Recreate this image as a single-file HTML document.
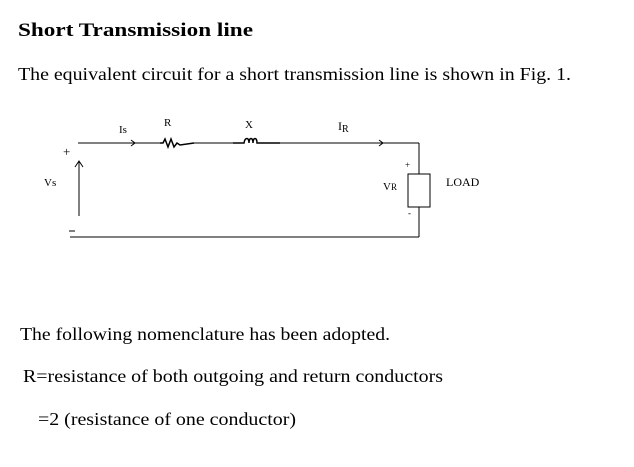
<!DOCTYPE html>
<html><head><style>html,body{margin:0;padding:0;background:#fff;}svg{display:block}</style></head>
<body>
<svg width="634" height="467" xmlns="http://www.w3.org/2000/svg" font-family="Liberation Serif, serif" fill="#000">
<text x="18" y="36" font-size="19" font-weight="bold" textLength="235" lengthAdjust="spacingAndGlyphs">Short Transmission  line</text>
<text x="18" y="80" font-size="18" textLength="553" lengthAdjust="spacingAndGlyphs">The equivalent circuit for a short transmission line is shown in Fig. 1.</text>
<g stroke="#000" stroke-width="1" fill="none">
<line x1="78" y1="143" x2="160" y2="143"/>
<polyline stroke-width="1.5" points="160,143 163,143 165,139 168,147 171,139 174,147 177,143 180,145 194,143"/>
<line x1="194" y1="143" x2="233" y2="143"/>
<path stroke-width="1.5" d="M233,143 L244,143 C245,137 249,137 249,143 C249,137 253,137 253,143 C253,137 257,137 257,143 L280,143"/>
<line x1="280" y1="143" x2="419" y2="143"/>
<polyline points="131,140 135,143 131,146"/>
<polyline points="379,140 383,143 379,146"/>
<line x1="419" y1="143" x2="419" y2="174"/>
<rect x="408" y="174" width="22" height="33"/>
<line x1="419" y1="207" x2="419" y2="237"/>
<line x1="70" y1="237" x2="419" y2="237"/>
<line x1="79" y1="216" x2="79" y2="162"/>
<polyline points="75,167 79,161 83,167"/>
<line x1="69" y1="231" x2="75" y2="231"/>
</g>
<text x="63" y="156" font-size="13">+</text>
<text x="44" y="186" font-size="11">Vs</text>
<text x="119" y="133" font-size="11">Is</text>
<text x="164" y="126" font-size="11">R</text>
<text x="245" y="128" font-size="11">X</text>
<text x="338" y="130" font-size="12">I<tspan font-size="10" dy="2">R</tspan></text>
<text x="383" y="190" font-size="11">V<tspan font-size="9">R</tspan></text>
<text x="405" y="168" font-size="9">+</text>
<text x="408" y="216" font-size="9">-</text>
<text x="446" y="186" font-size="12">LOAD</text>
<text x="20" y="340" font-size="18" textLength="370" lengthAdjust="spacingAndGlyphs">The following nomenclature has been adopted.</text>
<text x="23" y="382" font-size="18" textLength="420" lengthAdjust="spacingAndGlyphs">R=resistance of both outgoing and return conductors</text>
<text x="38" y="425" font-size="18" textLength="258" lengthAdjust="spacingAndGlyphs">=2 (resistance of one conductor)</text>
</svg>
</body></html>
